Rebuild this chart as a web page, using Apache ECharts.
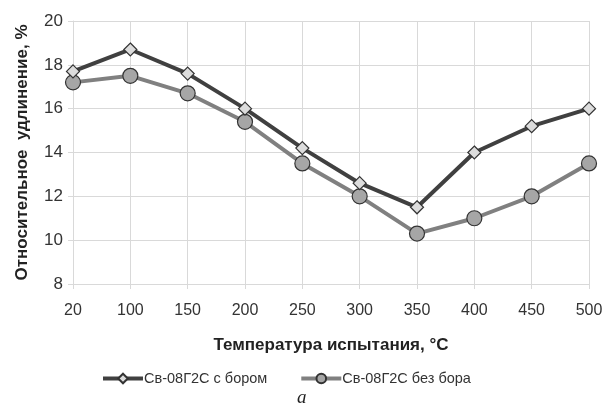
<!DOCTYPE html>
<html><head><meta charset="utf-8">
<script src="https://cdn.jsdelivr.net/npm/echarts@6/dist/echarts.min.js"></script>
<style>html,body{margin:0;padding:0;background:#fff}#c{width:613px;height:413px}</style>
</head><body><div id="c"></div>
<script>
const categories = ['20','100','150','200','250','300','350','400','450','500'];
const withBoron = [17.7, 18.7, 17.6, 16.0, 14.2, 12.6, 11.5, 14.0, 15.2, 16.0];
const withoutBoron = [17.2, 17.5, 16.7, 15.4, 13.5, 12.0, 10.3, 11.0, 12.0, 13.5];
const seriesNames = ['Св-08Г2С с бором', 'Св-08Г2С без бора'];
const yTitle = 'Относительное  удлинение, %';
const xTitle = 'Температура испытания, °C';
const caption = 'a';

const chart = echarts.init(document.getElementById('c'), null, {renderer:'canvas'});
const font = 'Liberation Sans, Arial, sans-serif';
chart.setOption({
  animation:false,
  textStyle:{fontFamily:font},
  grid:{left:73,right:24,top:21,bottom:129},
  xAxis:{
    type:'category', data:categories, boundaryGap:false,
    axisLine:{show:true,lineStyle:{color:'#d9d9d9'}},
    axisTick:{show:true,alignWithLabel:true,length:5,lineStyle:{color:'#d9d9d9'}},
    splitLine:{show:true,lineStyle:{color:'#d9d9d9',width:1}},
    axisLabel:{color:'#333',fontSize:16,margin:19,fontFamily:font},
    name:xTitle, nameLocation:'middle', nameGap:53,
    nameTextStyle:{color:'#222',fontSize:17,fontWeight:'bold',fontFamily:font}
  },
  yAxis:{
    type:'value', min:8, max:20, interval:2,
    axisLine:{show:true,lineStyle:{color:'#d9d9d9'}},
    axisTick:{show:true,length:5,lineStyle:{color:'#d9d9d9'}},
    splitLine:{show:true,lineStyle:{color:'#d9d9d9',width:1}},
    axisLabel:{color:'#333',fontSize:17,margin:10,fontFamily:font},
    name:yTitle, nameLocation:'middle', nameGap:42, nameRotate:90,
    nameTextStyle:{color:'#222',fontSize:17,fontWeight:'bold',fontFamily:font}
  },
  legend:{
    top:366, left:96, itemWidth:40, itemHeight:12, itemGap:32,
    lineStyle:{width:4},
    textStyle:{color:'#333',fontSize:14.5,fontFamily:font,padding:[0,0,0,-4]},
    data:seriesNames
  },
  graphic:[{type:'text',left:297,top:388,style:{text:caption,font:'italic 19px "Liberation Serif", "DejaVu Serif", serif',fill:'#222'}}],
  series:[
    {name:seriesNames[0],type:'line',data:withBoron,z:3,
     symbol:'diamond',symbolSize:13,
     lineStyle:{color:'#404040',width:4},
     itemStyle:{color:'#dcdcdc',borderColor:'#333',borderWidth:1.2}},
    {name:seriesNames[1],type:'line',data:withoutBoron,z:2,
     symbol:'circle',symbolSize:15,
     lineStyle:{color:'#808080',width:4},
     itemStyle:{color:'#a6a6a6',borderColor:'#333',borderWidth:1.2}}
  ]
});
</script></body></html>
